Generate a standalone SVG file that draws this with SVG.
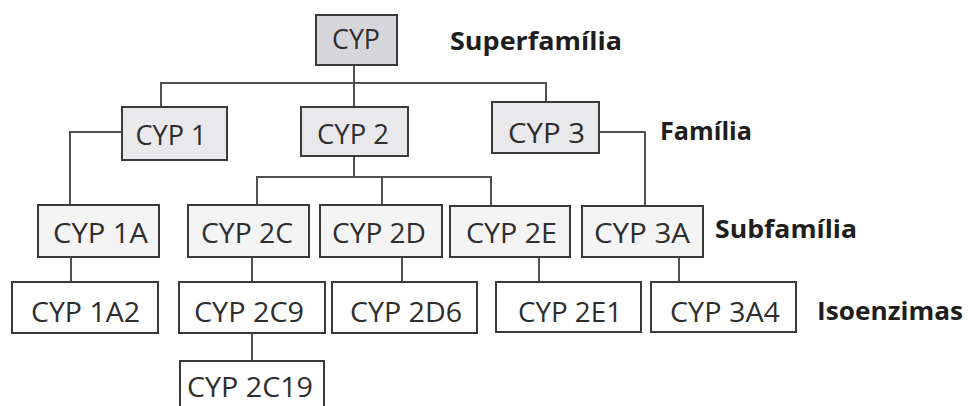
<svg xmlns="http://www.w3.org/2000/svg" width="968" height="406" viewBox="0 0 968 406">
<style>
.b{stroke:#3a3a3a;stroke-width:2}
.sup{fill:#d6d6da}
.fam{fill:#e9e9eb}
.sub{fill:#f4f4f4}
.iso{fill:#ffffff}
.t{font-family:"Open Sans","DejaVu Sans",sans-serif;font-size:27px;fill:#2e2e2e;text-anchor:middle}
.l{font-family:"Open Sans","DejaVu Sans",sans-serif;font-size:25px;font-weight:bold;fill:#1e1e1e}
.c{stroke:#505050;stroke-width:2;fill:none}
</style>
<rect width="968" height="406" fill="#ffffff"/>
<g id="connectors">
<path class="c" d="M354 65V107M161 107V83H546V102"/>
<path class="c" d="M122 132H70V205M71 257V282"/>
<path class="c" d="M354 156V177M257 205V177H491V205M382 177V205"/>
<path class="c" d="M599 132H645V206M679 257V282"/>
<path class="c" d="M252 257V282M252 333V361M402 257V282M539 257V282"/>
</g>
<g id="n-cyp"><rect class="b sup" x="316" y="15" width="81" height="50"/><text class="t" x="356" y="49" textLength="48" lengthAdjust="spacingAndGlyphs">CYP</text></g>
<g id="n-cyp1"><rect class="b fam" x="122" y="107" width="105" height="53"/><text class="t" x="171" y="145" textLength="71" lengthAdjust="spacingAndGlyphs">CYP 1</text></g>
<g id="n-cyp2"><rect class="b fam" x="301" y="107" width="107" height="49"/><text class="t" x="353" y="144" textLength="72" lengthAdjust="spacingAndGlyphs">CYP 2</text></g>
<g id="n-cyp3"><rect class="b fam" x="492" y="102" width="107" height="51"/><text class="t" x="546.5" y="143" textLength="77" lengthAdjust="spacingAndGlyphs">CYP 3</text></g>
<g id="n-cyp1a"><rect class="b sub" x="38" y="205" width="121" height="52"/><text class="t" x="100.5" y="243" textLength="95" lengthAdjust="spacingAndGlyphs">CYP 1A</text></g>
<g id="n-cyp2c"><rect class="b sub" x="188" y="205" width="121" height="52"/><text class="t" x="247" y="243" textLength="92" lengthAdjust="spacingAndGlyphs">CYP 2C</text></g>
<g id="n-cyp2d"><rect class="b sub" x="320" y="205" width="122" height="52"/><text class="t" x="379" y="243" textLength="94" lengthAdjust="spacingAndGlyphs">CYP 2D</text></g>
<g id="n-cyp2e"><rect class="b sub" x="450" y="206" width="120" height="51"/><text class="t" x="511.5" y="243" textLength="91" lengthAdjust="spacingAndGlyphs">CYP 2E</text></g>
<g id="n-cyp3a"><rect class="b sub" x="582" y="206" width="121" height="51"/><text class="t" x="642" y="243" textLength="96" lengthAdjust="spacingAndGlyphs">CYP 3A</text></g>
<g id="n-cyp1a2"><rect class="b iso" x="12" y="282" width="146" height="51"/><text class="t" x="85.5" y="322" textLength="109" lengthAdjust="spacingAndGlyphs">CYP 1A2</text></g>
<g id="n-cyp2c9"><rect class="b iso" x="179" y="282" width="146" height="51"/><text class="t" x="249" y="322" textLength="110" lengthAdjust="spacingAndGlyphs">CYP 2C9</text></g>
<g id="n-cyp2d6"><rect class="b iso" x="332" y="282" width="145" height="51"/><text class="t" x="406" y="322" textLength="112" lengthAdjust="spacingAndGlyphs">CYP 2D6</text></g>
<g id="n-cyp2e1"><rect class="b iso" x="496" y="282" width="145" height="50"/><text class="t" x="570" y="322" textLength="104" lengthAdjust="spacingAndGlyphs">CYP 2E1</text></g>
<g id="n-cyp3a4"><rect class="b iso" x="651" y="282" width="145" height="50"/><text class="t" x="725" y="322" textLength="110" lengthAdjust="spacingAndGlyphs">CYP 3A4</text></g>
<g id="n-cyp2c19"><rect class="b iso" x="180" y="361" width="144" height="52"/><text class="t" x="250" y="397" textLength="126" lengthAdjust="spacingAndGlyphs">CYP 2C19</text></g>
<g id="labels">
<text class="l" x="450" y="50" textLength="172" lengthAdjust="spacingAndGlyphs">Superfamília</text>
<text class="l" x="660" y="140" textLength="92" lengthAdjust="spacingAndGlyphs">Família</text>
<text class="l" x="715" y="238" textLength="142" lengthAdjust="spacingAndGlyphs">Subfamília</text>
<text class="l" x="817" y="320" textLength="146" lengthAdjust="spacingAndGlyphs">Isoenzimas</text>
</g>
</svg>
